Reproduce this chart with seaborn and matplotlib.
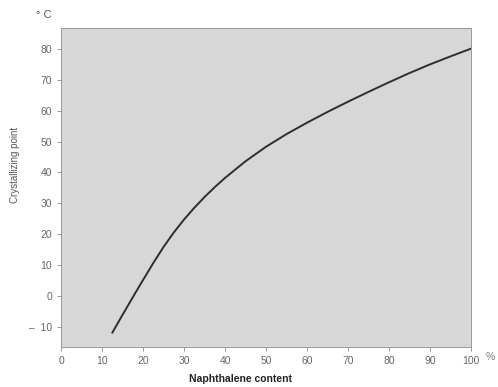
import pandas as pd
import matplotlib
matplotlib.use("Agg")
import matplotlib.pyplot as plt
import seaborn as sns

# naphthalene content (%) vs crystallizing point (deg C)
content = [12.5, 15, 17.5, 20, 22.5, 25, 27.5, 30, 32.5, 35, 37.5, 40,
           45, 50, 55, 60, 65, 70, 75, 80, 85, 90, 95, 100]
cryst_point = [-12, -6.2, -0.5, 5.1, 10.6, 15.8, 20.5, 24.7, 28.5, 32, 35.2, 38.2,
               43.6, 48.3, 52.4, 56.1, 59.6, 62.9, 66.1, 69.2, 72.2, 75, 77.6, 80.1]
x_ticks = [0, 10, 20, 30, 40, 50, 60, 70, 80, 90, 100]
y_ticks = [-10, 0, 10, 20, 30, 40, 50, 60, 70, 80]
y_tick_labels = ["–  10", "0", "10", "20", "30", "40", "50", "60", "70", "80"]

df = pd.DataFrame({"content": content, "point": cryst_point})

sns.set_style("white")
plt.rcParams["font.family"] = ["Liberation Sans", "DejaVu Sans"]

fig = plt.figure(figsize=(4.98, 3.87), dpi=100)
ax = fig.add_axes([0.1225, 0.1034, 0.8233, 0.8243])
ax.set_facecolor("#d7d7d7")

sns.lineplot(data=df, x="content", y="point", color="#2e2e2e", linewidth=1.4, ax=ax)

ax.set_xlim(0, 100)
ax.set_ylim(-16.6, 86.8)
ax.set_xticks(x_ticks)
ax.set_yticks(y_ticks)
ax.set_yticklabels(y_tick_labels)
ax.tick_params(axis="both", labelsize=7.5, labelcolor="#666666", color="#888888",
               length=3, width=0.6, direction="out", left=True, bottom=True)
for s in ax.spines.values():
    s.set_color("#999999")
    s.set_linewidth(0.7)

ax.set_xlabel("Naphthalene content", fontsize=7.5, fontweight="bold", color="#222222")
ax.xaxis.set_label_coords(0.437, -0.085)
ax.set_ylabel("Crystallizing point", fontsize=7, color="#555555")
ax.yaxis.set_label_coords(-0.1, 0.57)

fig.text(0.088, 0.962, "° C", fontsize=8, color="#555555", ha="center", va="center")
fig.text(0.985, 0.078, "%", fontsize=7.5, color="#777777", ha="center", va="center")

fig.savefig("out.png", dpi=100)
